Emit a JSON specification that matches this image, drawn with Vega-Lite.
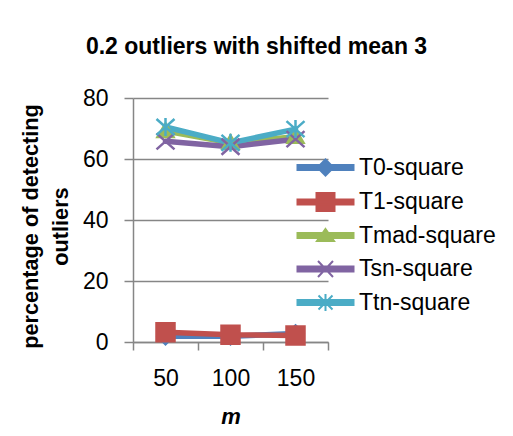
{
  "$schema": "https://vega.github.io/schema/vega-lite/v6.json",
  "width": 195,
  "height": 244,
  "autosize": {"type": "none"},
  "padding": {"left": 133, "top": 98, "right": 185, "bottom": 94},
  "background": "white",
  "config": {"view": {"stroke": null}, "font": "Liberation Sans"},
  "title": {
    "text": "0.2 outliers with shifted mean 3",
    "font": "Liberation Sans",
    "fontSize": 23,
    "fontWeight": "bold",
    "color": "black",
    "anchor": "middle",
    "dx": 26,
    "offset": 28
  },
  "data": {
    "values": [
      {"m": "50", "series": "T0-square", "value": 1.9},
      {"m": "100", "series": "T0-square", "value": 1.9},
      {"m": "150", "series": "T0-square", "value": 2.8},
      {"m": "50", "series": "T1-square", "value": 3.2},
      {"m": "100", "series": "T1-square", "value": 2.4},
      {"m": "150", "series": "T1-square", "value": 2.1},
      {"m": "50", "series": "Tmad-square", "value": 69.2},
      {"m": "100", "series": "Tmad-square", "value": 65.3},
      {"m": "150", "series": "Tmad-square", "value": 67.3},
      {"m": "50", "series": "Tsn-square", "value": 65.8},
      {"m": "100", "series": "Tsn-square", "value": 64.0},
      {"m": "150", "series": "Tsn-square", "value": 66.5},
      {"m": "50", "series": "Ttn-square", "value": 70.5},
      {"m": "100", "series": "Ttn-square", "value": 65.3},
      {"m": "150", "series": "Ttn-square", "value": 69.8}
    ]
  },
  "encoding": {
    "x": {
      "field": "m",
      "type": "ordinal",
      "sort": ["50", "100", "150"],
      "scale": {"type": "band", "paddingInner": 0, "paddingOuter": 0},
      "axis": {
        "title": "m",
        "titleFont": "Liberation Sans",
        "titleFontSize": 22,
        "titleFontWeight": "bold",
        "titleFontStyle": "italic",
        "titleColor": "black",
        "titlePadding": 16,
        "labelAngle": 0,
        "labelFont": "Liberation Sans",
        "labelFontSize": 23,
        "labelColor": "black",
        "labelPadding": 17,
        "domainColor": "#868686",
        "domainWidth": 1.5,
        "tickColor": "#868686",
        "tickWidth": 1.5,
        "tickSize": 8,
        "tickBand": "extent",
        "grid": false
      }
    },
    "y": {
      "field": "value",
      "type": "quantitative",
      "scale": {"domain": [0, 80]},
      "axis": {
        "values": [0, 20, 40, 60, 80],
        "title": ["percentage of detecting", "outliers"],
        "titleFont": "Liberation Sans",
        "titleFontSize": 21.7,
        "titleFontWeight": "bold",
        "titleColor": "black",
        "titleLineHeight": 30,
        "titlePadding": 10,
        "titleY": 128,
        "labelFont": "Liberation Sans",
        "labelFontSize": 23,
        "labelColor": "black",
        "labelPadding": 16,
        "domainColor": "#868686",
        "domainWidth": 1.5,
        "tickColor": "#868686",
        "tickWidth": 1.5,
        "tickSize": 9,
        "grid": true,
        "gridColor": "#868686",
        "gridWidth": 1.5
      }
    },
    "color": {
      "field": "series",
      "type": "nominal",
      "scale": {
        "domain": ["T0-square", "T1-square", "Tmad-square", "Tsn-square", "Ttn-square"],
        "range": ["#4F81BD", "#C0504D", "#9BBB59", "#8064A2", "#4BACC6"]
      },
      "legend": {
        "orient": "none",
        "legendX": 181,
        "legendY": 58,
        "title": null,
        "labelFont": "Liberation Sans",
        "labelFontSize": 23,
        "labelColor": "black",
        "symbolSize": 400,
        "symbolStrokeWidth": 2,
        "rowPadding": 8.5,
        "labelOffset": 22,
        "encode": {
          "symbols": {
            "update": {
              "shape": {
                "signal": "datum.value === 'T0-square' ? 'M-2.8,-0.25H2.8V0.25H-2.8ZM0,-0.8L0.8,0L0,0.8L-0.8,0Z' : datum.value === 'T1-square' ? 'M-2.8,-0.25H2.8V0.25H-2.8ZM-0.9,-0.9H0.9V0.9H-0.9Z' : datum.value === 'Tmad-square' ? 'M-2.8,-0.25H2.8V0.25H-2.8ZM0,-0.65L0.85,0.55H-0.85Z' : datum.value === 'Tsn-square' ? 'M-2.8,-0.25H2.8V0.25H-2.8ZM-0.75,-0.8L0.75,0.8M-0.75,0.8L0.75,-0.8' : 'M-2.8,-0.25H2.8V0.25H-2.8ZM-0.7,-0.7L0.7,0.7M-0.7,0.7L0.7,-0.7M0,-0.85V0.85'"
              },
              "fill": {"scale": "color", "field": "value"},
              "stroke": {"scale": "color", "field": "value"},
              "strokeWidth": {"value": 2},
              "opacity": {"value": 1},
              "fillOpacity": {"value": 1}
            }
          }
        }
      }
    }
  },
  "layer": [
    {
      "mark": {"type": "line", "strokeWidth": 5.5, "strokeCap": "round", "strokeJoin": "round"}
    },
    {
      "mark": {"type": "point", "filled": true, "size": 400, "strokeWidth": 2.5, "opacity": 1},
      "encoding": {
        "shape": {
          "condition": [
            {"test": "datum.series === 'T0-square'", "value": "M0,-0.8L0.8,0L0,0.8L-0.8,0Z"},
            {"test": "datum.series === 'T1-square'", "value": "M-0.9,-0.9H0.9V0.9H-0.9Z"},
            {"test": "datum.series === 'Tmad-square'", "value": "M0,-0.75L0.8,0.6H-0.8Z"},
            {"test": "datum.series === 'Tsn-square'", "value": "M-0.9,-0.8L0.9,0.8M-0.9,0.8L0.9,-0.8"}
          ],
          "value": "M-0.9,-0.8L0.9,0.8M-0.9,0.8L0.9,-0.8M0,-0.9V0.9"
        },
        "stroke": {
          "condition": [
            {"test": "datum.series === 'T0-square'", "value": "#4F81BD"},
            {"test": "datum.series === 'T1-square'", "value": "#C0504D"},
            {"test": "datum.series === 'Tmad-square'", "value": "#9BBB59"},
            {"test": "datum.series === 'Tsn-square'", "value": "#8064A2"}
          ],
          "value": "#4BACC6"
        }
      }
    }
  ]
}
